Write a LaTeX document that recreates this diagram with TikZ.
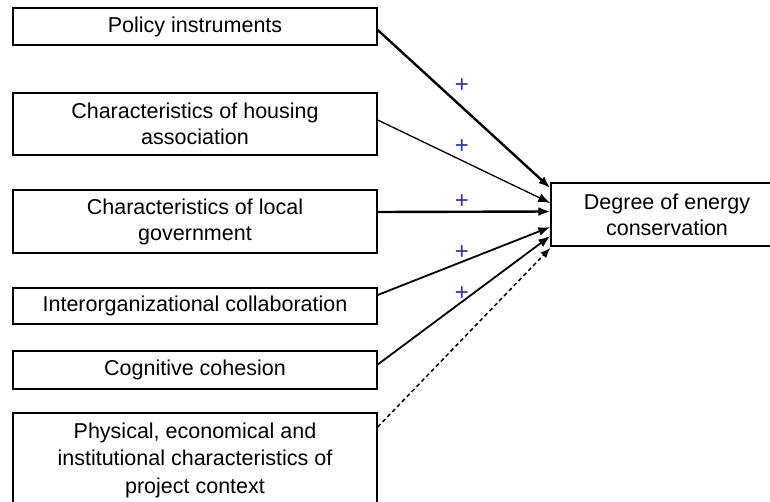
\documentclass[tikz,border=0pt]{standalone}
\usepackage{fontspec}
\setmainfont{Liberation Sans}
\usetikzlibrary{arrows.meta,calc}
\begin{document}
\begin{tikzpicture}[x=1pt,y=-1pt,
  box/.style={draw=black,line width=1.4pt,rectangle,inner sep=0pt,align=center,
    font=\fontsize{21.5}{26}\selectfont},
  lbox/.style={box,minimum width=364pt},
  arr/.style={-{Latex[length=12pt,width=9pt]},line width=1.8pt},
  plus/.style={text=plusblue,font=\fontsize{24}{24}\selectfont,inner sep=0pt}
]
\definecolor{plusblue}{RGB}{51,51,160}
\clip (0,0) rectangle (770,501);
\fill[white] (0,0) rectangle (770,501);

\node[lbox,minimum height=37pt] (A) at (195,26.5) {Policy instruments};
\node[lbox,minimum height=62pt] (B) at (195,124) {Characteristics of housing\\association};
\node[lbox,minimum height=63pt] (C) at (195,221.5) {Characteristics of local\\government};
\node[lbox,minimum height=36pt] (E) at (195,306) {Interorganizational collaboration};
\node[lbox,minimum height=38pt] (F) at (195,370) {Cognitive cohesion};
\node[lbox,minimum height=100pt] (G) at (195,463) {};
\node[align=center,inner sep=0pt,font=\fontsize{21.5}{27.5}\selectfont] (Gt) at (195,460)
  {Physical, economical and\\institutional characteristics of\\project context};

\node[box,minimum width=232pt,minimum height=63pt] (D) at (667,214.5) {Degree of energy\\conservation};

\draw[arr,line width=2.4pt] ([yshift=-3.5pt]A.east) -- ([yshift=26.5pt]D.west);
\draw[arr,line width=1.3pt] ([yshift=4pt]B.east) -- ([yshift=11.5pt]D.west);
\draw[arr,line width=2.4pt] ([yshift=9.5pt]C.east) -- ([yshift=3pt]D.west);
\draw[arr] ([yshift=11pt]E.east) -- ([yshift=-12.5pt]D.west);
\draw[arr] ([yshift=5.5pt]F.east) -- ([yshift=-21.5pt]D.west);
\draw[-{Latex[length=10pt,width=8pt]},line width=1.5pt,dash pattern=on 4pt off 3pt]
  ([yshift=36pt]G.east) -- ([yshift=-33.5pt]D.west);

\node[plus] (p1) at (462,86) {+};
\node[plus] (p2) at (462,147) {+};
\node[plus] (p3) at (462,202) {+};
\node[plus] (p4) at (462,253) {+};
\node[plus] (p5) at (462,294) {+};
\end{tikzpicture}
\end{document}
